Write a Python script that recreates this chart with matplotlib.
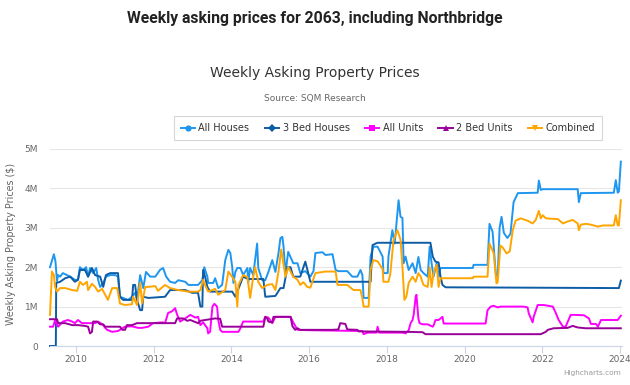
import matplotlib
matplotlib.use("Agg")
import matplotlib.pyplot as plt
from matplotlib.lines import Line2D
from matplotlib.ticker import FuncFormatter, FixedLocator

# ---------------- data (values in millions of $) ----------------
ah_x = [2009.33, 2009.43, 2009.47, 2009.51, 2009.54, 2009.59, 2009.66, 2009.85, 2009.97, 2010.05,
        2010.10, 2010.18, 2010.26, 2010.31, 2010.36, 2010.44, 2010.52, 2010.57, 2010.62, 2010.70,
        2010.77, 2010.88, 2011.01, 2011.08, 2011.13, 2011.21, 2011.34, 2011.44, 2011.52, 2011.57,
        2011.65, 2011.73, 2011.80, 2011.91, 2012.04, 2012.16, 2012.24, 2012.32, 2012.42, 2012.55,
        2012.63, 2012.81, 2012.89, 2013.14, 2013.25, 2013.30, 2013.38, 2013.40, 2013.53, 2013.58,
        2013.66, 2013.76, 2013.84, 2013.92, 2013.97, 2014.02, 2014.05, 2014.10, 2014.15, 2014.23,
        2014.30, 2014.41, 2014.43, 2014.48, 2014.56, 2014.66, 2014.69, 2014.79, 2014.87, 2014.95,
        2015.05, 2015.13, 2015.21, 2015.26, 2015.31, 2015.34, 2015.39, 2015.46, 2015.59, 2015.70,
        2015.77, 2015.90, 2016.03, 2016.11, 2016.16, 2016.34, 2016.42, 2016.60, 2016.68, 2016.75,
        2016.98, 2017.11, 2017.24, 2017.32, 2017.37, 2017.40, 2017.53, 2017.58, 2017.65, 2017.76,
        2017.89, 2017.91, 2018.02, 2018.04, 2018.14, 2018.20, 2018.30, 2018.35, 2018.40, 2018.43,
        2018.48, 2018.56, 2018.66, 2018.74, 2018.81, 2018.87, 2018.94, 2019.05, 2019.10, 2019.15,
        2019.20, 2019.28, 2019.33, 2019.38, 2020.21, 2020.23, 2020.59, 2020.64, 2020.72, 2020.80,
        2020.85, 2020.90, 2020.95, 2021.01, 2021.10, 2021.18, 2021.26, 2021.37, 2021.88, 2021.91,
        2021.96, 2022.01, 2022.91, 2022.94, 2022.99, 2023.84, 2023.89, 2023.94, 2023.97, 2024.02]
ah_y = [2.00, 2.33, 2.15, 1.65, 1.80, 1.76, 1.85, 1.76, 1.68, 1.68,
        2.00, 1.93, 2.00, 1.76, 1.98, 1.85, 1.98, 1.67, 1.50, 1.60,
        1.76, 1.80, 1.80, 1.76, 1.25, 1.22, 1.17, 1.25, 1.35, 1.17,
        1.80, 1.47, 1.88, 1.76, 1.76, 1.93, 1.98, 1.76, 1.63, 1.60,
        1.67, 1.63, 1.55, 1.55, 1.67, 2.00, 1.76, 1.60, 1.60, 1.72,
        1.47, 1.55, 2.18, 2.44, 2.36, 2.00, 1.60, 1.88, 1.98, 1.98,
        1.80, 1.98, 1.60, 1.98, 1.80, 2.60, 1.98, 1.67, 1.67, 1.88,
        2.18, 1.88, 2.36, 2.74, 2.77, 2.52, 1.85, 2.39, 2.10, 2.10,
        1.85, 1.90, 1.76, 1.90, 2.36, 2.38, 2.31, 2.33, 1.93, 1.90,
        1.90, 1.76, 1.76, 1.93, 1.80, 1.22, 1.22, 2.27, 2.52, 2.52,
        2.27, 1.85, 1.85, 2.27, 2.94, 2.60, 3.70, 3.28, 3.25, 2.10,
        2.27, 1.93, 2.10, 1.85, 2.26, 1.93, 1.85, 1.76, 2.52, 2.10,
        1.76, 2.10, 1.76, 1.98, 1.98, 2.06, 2.06, 3.10, 2.90, 1.85,
        1.76, 3.00, 3.28, 2.87, 2.74, 2.85, 3.65, 3.88, 3.89, 4.20,
        3.96, 3.98, 3.98, 3.65, 3.88, 3.89, 4.21, 3.89, 3.92, 4.68]

bh_x = [2009.33, 2009.48, 2009.49, 2009.59, 2009.72, 2009.85, 2009.97, 2010.05, 2010.10, 2010.23,
        2010.31, 2010.41, 2010.49, 2010.62, 2010.70, 2010.77, 2010.88, 2011.08, 2011.13, 2011.21,
        2011.44, 2011.47, 2011.52, 2011.57, 2011.65, 2011.70, 2011.73, 2011.86, 2012.29, 2012.42,
        2012.81, 2012.99, 2013.14, 2013.20, 2013.25, 2013.27, 2013.32, 2013.38, 2013.45, 2013.53,
        2014.02, 2014.10, 2014.30, 2014.43, 2014.82, 2014.87, 2015.13, 2015.26, 2015.34, 2015.44,
        2015.52, 2015.59, 2015.77, 2015.90, 2015.95, 2016.03, 2017.58, 2017.63, 2017.71, 2017.76,
        2019.12, 2019.18, 2019.25, 2019.33, 2019.38, 2019.43, 2019.51, 2023.97, 2024.02]
bh_y = [0.00, 0.00, 1.60, 1.63, 1.72, 1.76, 1.63, 1.68, 1.93, 1.93,
        1.76, 1.98, 1.80, 1.76, 1.50, 1.80, 1.85, 1.85, 1.25, 1.17,
        1.17, 1.55, 1.55, 1.17, 0.91, 0.91, 1.25, 1.22, 1.25, 1.42,
        1.42, 1.35, 1.35, 1.00, 1.00, 1.93, 1.76, 1.50, 1.38, 1.38,
        1.38, 1.25, 1.76, 1.70, 1.70, 1.25, 1.27, 1.47, 1.47, 2.00,
        2.00, 1.76, 1.76, 2.14, 1.95, 1.63, 1.63, 2.56, 2.60, 2.62,
        2.62, 2.27, 2.14, 2.12, 1.76, 1.55, 1.49, 1.47, 1.66]

au_x = [2009.33, 2009.41, 2009.46, 2009.54, 2009.66, 2009.79, 2009.90, 2009.97, 2010.05, 2010.15,
        2010.31, 2010.49, 2010.57, 2010.70, 2010.75, 2010.80, 2010.93, 2011.08, 2011.26, 2011.44,
        2011.60, 2011.70, 2011.86, 2011.98, 2012.22, 2012.29, 2012.37, 2012.47, 2012.55, 2012.60,
        2012.68, 2012.81, 2012.94, 2013.07, 2013.14, 2013.20, 2013.27, 2013.38, 2013.40, 2013.45,
        2013.51, 2013.56, 2013.63, 2013.66, 2013.71, 2013.76, 2014.18, 2014.23, 2014.30, 2014.82,
        2014.87, 2014.95, 2015.05, 2015.13, 2015.52, 2015.59, 2015.70, 2016.03, 2017.37, 2017.40,
        2017.50, 2017.73, 2017.76, 2017.80, 2018.40, 2018.48, 2018.56, 2018.61, 2018.66, 2018.69,
        2018.74, 2018.76, 2018.81, 2018.84, 2018.92, 2019.05, 2019.18, 2019.20, 2019.25, 2019.33,
        2019.43, 2019.46, 2019.56, 2020.54, 2020.59, 2020.67, 2020.75, 2020.85, 2020.93, 2021.52,
        2021.62, 2021.65, 2021.75, 2021.78, 2021.88, 2022.04, 2022.27, 2022.35, 2022.42, 2022.53,
        2022.60, 2022.73, 2022.81, 2023.07, 2023.20, 2023.25, 2023.38, 2023.43, 2023.51, 2023.94,
        2024.02]
au_y = [0.49, 0.49, 0.66, 0.49, 0.62, 0.66, 0.62, 0.58, 0.66, 0.58,
        0.58, 0.58, 0.62, 0.53, 0.46, 0.41, 0.36, 0.38, 0.49, 0.50,
        0.46, 0.46, 0.49, 0.58, 0.60, 0.58, 0.84, 0.88, 0.96, 0.80,
        0.62, 0.70, 0.79, 0.72, 0.74, 0.53, 0.60, 0.45, 0.32, 0.36,
        1.00, 1.07, 1.00, 0.66, 0.41, 0.36, 0.36, 0.45, 0.62, 0.62,
        0.74, 0.72, 0.58, 0.74, 0.74, 0.60, 0.41, 0.40, 0.38, 0.30,
        0.34, 0.34, 0.49, 0.34, 0.34, 0.32, 0.40, 0.58, 0.66, 0.80,
        1.25, 1.30, 0.70, 0.58, 0.55, 0.55, 0.49, 0.52, 0.66, 0.66,
        0.74, 0.57, 0.57, 0.57, 0.91, 1.00, 1.02, 0.98, 1.00, 1.00,
        0.98, 0.83, 0.60, 0.75, 1.04, 1.04, 1.00, 0.83, 0.66, 0.49,
        0.49, 0.79, 0.79, 0.78, 0.70, 0.56, 0.56, 0.49, 0.66, 0.66,
        0.77]

bu_x = [2009.33, 2009.51, 2009.54, 2009.72, 2009.90, 2010.05, 2010.23, 2010.31, 2010.36, 2010.41,
        2010.44, 2010.54, 2010.62, 2010.70, 2010.75, 2011.13, 2011.19, 2011.26, 2011.31, 2011.44,
        2011.57, 2012.55, 2012.60, 2012.76, 2012.86, 2012.94, 2013.14, 2013.20, 2013.58, 2013.71,
        2013.76, 2014.82, 2014.87, 2014.92, 2014.95, 2015.05, 2015.08, 2015.52, 2015.57, 2015.64,
        2015.70, 2015.77, 2016.60, 2016.75, 2016.80, 2016.93, 2016.98, 2017.24, 2017.27, 2018.48,
        2018.92, 2018.99, 2021.96, 2022.09, 2022.14, 2022.29, 2022.65, 2022.78, 2022.91, 2023.12,
        2024.02]
bu_y = [0.68, 0.68, 0.58, 0.58, 0.53, 0.53, 0.51, 0.49, 0.32, 0.36,
        0.62, 0.62, 0.55, 0.55, 0.49, 0.49, 0.41, 0.41, 0.53, 0.53,
        0.58, 0.58, 0.70, 0.70, 0.64, 0.66, 0.58, 0.64, 0.70, 0.69,
        0.49, 0.49, 0.74, 0.70, 0.62, 0.60, 0.74, 0.74, 0.50, 0.41,
        0.45, 0.41, 0.41, 0.42, 0.58, 0.56, 0.42, 0.41, 0.37, 0.36,
        0.35, 0.30, 0.30, 0.36, 0.41, 0.45, 0.46, 0.51, 0.47, 0.45,
        0.45]

cb_x = [2009.33, 2009.38, 2009.43, 2009.46, 2009.51, 2009.59, 2009.72, 2009.90, 2010.03, 2010.10,
        2010.18, 2010.28, 2010.31, 2010.41, 2010.49, 2010.57, 2010.67, 2010.75, 2010.82, 2010.93,
        2011.06, 2011.13, 2011.26, 2011.44, 2011.47, 2011.57, 2011.65, 2011.70, 2011.78, 2011.86,
        2012.04, 2012.11, 2012.29, 2012.42, 2012.63, 2012.89, 2013.14, 2013.20, 2013.27, 2013.32,
        2013.40, 2013.58, 2013.66, 2013.84, 2013.92, 2014.02, 2014.10, 2014.15, 2014.18, 2014.30,
        2014.41, 2014.48, 2014.56, 2014.61, 2014.69, 2014.79, 2014.92, 2015.05, 2015.13, 2015.21,
        2015.28, 2015.39, 2015.46, 2015.59, 2015.70, 2015.77, 2015.85, 2015.95, 2016.03, 2016.16,
        2016.29, 2016.42, 2016.68, 2016.73, 2016.98, 2017.14, 2017.32, 2017.37, 2017.40, 2017.53,
        2017.58, 2017.65, 2017.76, 2017.89, 2017.91, 2018.04, 2018.09, 2018.17, 2018.27, 2018.35,
        2018.40, 2018.45, 2018.50, 2018.56, 2018.66, 2018.74, 2018.81, 2018.87, 2018.94, 2019.05,
        2019.10, 2019.15, 2019.20, 2019.28, 2019.33, 2019.38, 2020.21, 2020.23, 2020.59, 2020.64,
        2020.75, 2020.82, 2020.85, 2020.92, 2020.98, 2021.08, 2021.16, 2021.24, 2021.31, 2021.44,
        2021.62, 2021.75, 2021.83, 2021.91, 2021.96, 2022.01, 2022.09, 2022.40, 2022.53, 2022.65,
        2022.78, 2022.91, 2022.94, 2022.99, 2023.12, 2023.25, 2023.43, 2023.56, 2023.84, 2023.89,
        2023.94, 2023.97, 2024.02]
cb_y = [0.79, 1.89, 1.80, 1.50, 1.38, 1.47, 1.47, 1.42, 1.40, 1.63,
        1.55, 1.63, 1.42, 1.58, 1.50, 1.38, 1.45, 1.30, 1.17, 1.47,
        1.47, 1.08, 1.04, 1.06, 1.25, 1.04, 1.60, 1.08, 1.50, 1.50,
        1.52, 1.40, 1.55, 1.47, 1.42, 1.38, 1.38, 1.42, 1.68, 1.55,
        1.38, 1.45, 1.30, 1.42, 1.89, 1.75, 1.63, 1.00, 1.55, 1.80,
        1.75, 1.22, 1.75, 2.00, 1.63, 1.47, 1.55, 1.57, 1.42, 1.89,
        2.45, 1.76, 2.00, 1.76, 1.68, 1.55, 1.62, 1.50, 1.48, 1.85,
        1.87, 1.89, 1.89, 1.55, 1.55, 1.42, 1.42, 1.20, 1.00, 1.00,
        1.93, 2.18, 2.15, 1.95, 1.63, 1.63, 1.85, 2.69, 2.94, 2.70,
        2.00, 1.17, 1.25, 1.60, 1.76, 1.63, 1.85, 1.76, 1.55, 1.50,
        2.00, 1.50, 1.85, 2.06, 1.50, 1.72, 1.72, 1.76, 1.76, 2.60,
        2.35, 1.59, 1.62, 2.55, 2.50, 2.35, 2.40, 2.94, 3.18, 3.24,
        3.18, 3.11, 3.20, 3.43, 3.24, 3.32, 3.24, 3.22, 3.11, 3.16,
        3.20, 3.11, 2.94, 3.08, 3.10, 3.08, 3.03, 3.06, 3.06, 3.32,
        3.06, 3.06, 3.70]

series_names = ["All Houses", "3 Bed Houses", "All Units", "2 Bed Units", "Combined"]
series_colors = ["#1e96f0", "#0d5ca6", "#ff00ff", "#990099", "#ffa500"]
series_markers = ["o", "D", "s", "^", "v"]
year_ticks = [2010, 2012, 2014, 2016, 2018, 2020, 2022, 2024]
value_ticks = [0, 1, 2, 3, 4, 5]

# ---------------- figure ----------------
W, H = 630, 385
fig = plt.figure(figsize=(W / 100, H / 100), dpi=100)
fig.patch.set_facecolor("white")

L, R, T, B = 50, 622, 149, 346
ax = fig.add_axes([L / W, 1 - B / H, (R - L) / W, (B - T) / H])

data = [(ah_x, ah_y), (bh_x, bh_y), (au_x, au_y), (bu_x, bu_y), (cb_x, cb_y)]
for (xs, ys), name, col in zip(data, series_names, series_colors):
    ax.plot(xs, ys, color=col, lw=1.4, solid_joinstyle="round", label=name, clip_on=False)

ax.set_xlim(2009.33, 2024.05)
ax.set_ylim(0, 5)
ax.xaxis.set_major_locator(FixedLocator(year_ticks))
ax.yaxis.set_major_locator(FixedLocator(value_ticks))
ax.yaxis.set_major_formatter(FuncFormatter(lambda v, p: "0" if v == 0 else f"{int(v)}M"))

for s in ["top", "right", "left"]:
    ax.spines[s].set_visible(False)
ax.spines["bottom"].set_color("#ccd6eb")
ax.spines["bottom"].set_linewidth(0.8)
ax.grid(axis="y", color="#e6e6e6", lw=0.8)
ax.set_axisbelow(True)
ax.tick_params(axis="y", length=0, pad=8.5, labelsize=6.5, labelcolor="#666666")
ax.tick_params(axis="x", length=5, width=0.8, color="#ccd6eb", pad=1.5,
               labelsize=6.5, labelcolor="#666666")
for lab in ax.get_xticklabels() + ax.get_yticklabels():
    lab.set_family("DejaVu Sans")

# titles
fig.text(0.5, 1 - 19 / H, "Weekly asking prices for 2063, including Northbridge",
         ha="center", va="center", fontsize=11.3, fontweight="bold", color="#222222",
         family="Roboto")
fig.text(0.5, 1 - 73 / H, "Weekly Asking Property Prices", ha="center", va="center",
         fontsize=10, color="#333333", family="DejaVu Sans")
fig.text(0.5, 1 - 98 / H, "Source: SQM Research", ha="center", va="center",
         fontsize=6.5, color="#666666", family="DejaVu Sans")
fig.text(11 / W, 1 - 244 / H, "Weekly Asking Property Prices ($)", rotation=90,
         ha="center", va="center", fontsize=6.9, color="#666666", family="DejaVu Sans")
fig.text(621 / W, 1 - 373 / H, "Highcharts.com", ha="right", va="center",
         fontsize=5.3, color="#999999", family="DejaVu Sans")

# legend
handles = [Line2D([0], [0], color=c, lw=1.4, marker=m, markersize=4.5,
                  markeredgewidth=0) for c, m in zip(series_colors, series_markers)]
leg = fig.legend(handles, series_names, loc="center", ncol=5,
                 bbox_to_anchor=(388 / W, 1 - 128 / H),
                 frameon=True, fancybox=False, edgecolor="#cccccc",
                 handlelength=1.45, handletextpad=0.35,
                 columnspacing=1.6, borderpad=0.7, labelcolor="#333333",
                 prop={"family": "DejaVu Sans", "size": 7})
leg.get_frame().set_linewidth(0.8)

fig.savefig("out.png", dpi=100, facecolor="white")
